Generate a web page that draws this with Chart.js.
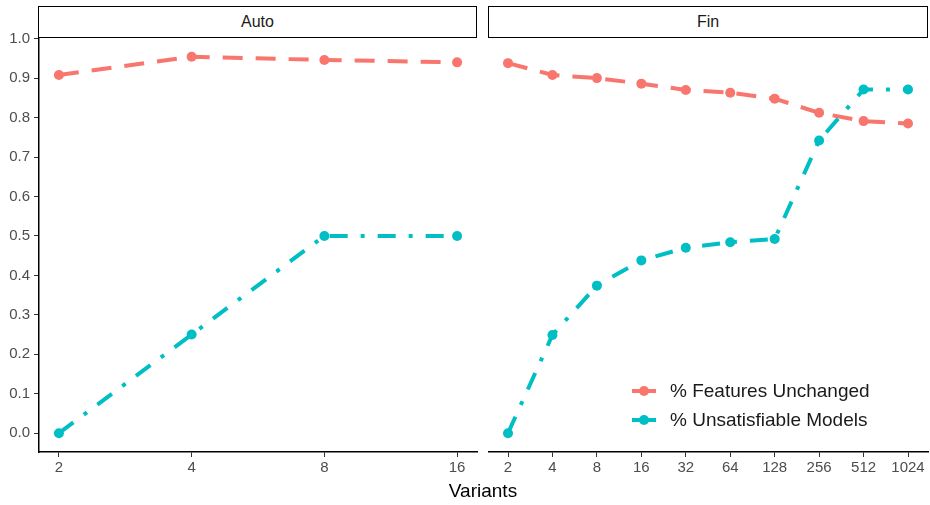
<!DOCTYPE html>
<html>
<head>
<meta charset="utf-8">
<script src="https://cdn.jsdelivr.net/npm/chart.js@4.4.0/dist/chart.umd.min.js"></script>
<style>
  body { margin: 0; background: #fff; font-family: "Liberation Sans", Arial, sans-serif; }
  #wrap { position: relative; width: 930px; height: 505px; overflow: hidden; }
  .strip { position: absolute; top: 6px; height: 32px; border: 1.5px solid #000; box-sizing: border-box; z-index: 2;
           background: #fff; text-align: center; line-height: 29px; font-size: 16px; color: #1a1a1a; }
  #chart-auto { position: absolute; left: 0; top: 20px; }
  #chart-fin { position: absolute; left: 488px; top: 20px; }
  #xtitle { position: absolute; left: 0; width: 966px; top: 480px; text-align: center; font-size: 19px; color: #000; }
</style>
</head>
<body>
<div id="wrap">
  <div class="strip" style="left:38px; width:439px;">Auto</div>
  <div class="strip" style="left:488px; width:440px;">Fin</div>
  <canvas id="chart-auto" width="478" height="462"></canvas>
  <canvas id="chart-fin" width="442" height="462"></canvas>
  <div id="xtitle">Variants</div>
</div>
<script>
// Data
var autoVariants = [2, 4, 8, 16];
var autoFeatures = [0.908, 0.954, 0.946, 0.940];
var autoUnsat    = [0.0, 0.25, 0.5, 0.5];

var finVariants = [2, 4, 8, 16, 32, 64, 128, 256, 512, 1024];
var finFeatures = [0.938, 0.908, 0.900, 0.886, 0.870, 0.863, 0.848, 0.812, 0.791, 0.785];
var finUnsat    = [0.0, 0.249, 0.374, 0.438, 0.470, 0.484, 0.492, 0.742, 0.871, 0.871];

var yTicks = [0.0, 0.1, 0.2, 0.3, 0.4, 0.5, 0.6, 0.7, 0.8, 0.9, 1.0];
var seriesLabels = ['% Features Unchanged', '% Unsatisfiable Models'];

var RED = '#F8766D', CYAN = '#00BFC4';
var FONT = '"Liberation Sans", Arial, sans-serif';

function pts(xs, ys) {
  return xs.map(function(x, i) { return { x: x, y: ys[i] }; });
}

function makeDatasets(xs, feat, unsat) {
  return [{
    label: seriesLabels[0],
    data: pts(xs, feat),
    borderColor: RED,
    backgroundColor: RED,
    borderWidth: 4,
    borderDash: [20, 13],
    pointRadius: 5,
    pointBorderWidth: 0,
    pointBackgroundColor: RED
  }, {
    label: seriesLabels[1],
    data: pts(xs, unsat),
    borderColor: CYAN,
    backgroundColor: CYAN,
    borderWidth: 4,
    borderDash: [18, 13, 4, 13],
    pointRadius: 5,
    pointBorderWidth: 0,
    pointBackgroundColor: CYAN
  }];
}

// log2 range with ggplot-like 5% expansion
function xRange(xs) {
  var lo = Math.log2(xs[0]), hi = Math.log2(xs[xs.length - 1]);
  var pad = (hi - lo) * 0.05;
  return { min: Math.pow(2, lo - pad), max: Math.pow(2, hi + pad) };
}

function xScale(xs) {
  var r = xRange(xs);
  return {
    type: 'logarithmic',
    min: r.min,
    max: r.max,
    afterBuildTicks: function(scale) {
      scale.ticks = xs.map(function(v) { return { value: v }; });
    },
    afterFit: function(scale) {
      scale.height = 30;
      scale.paddingLeft = 0;
      scale.paddingRight = 0;
    },
    ticks: {
      color: '#4d4d4d',
      font: { family: FONT, size: 15 },
      padding: 2,
      maxRotation: 0,
      autoSkip: false,
      callback: function(v) { return String(v); }
    },
    grid: { display: true, drawOnChartArea: false, tickLength: 5, color: '#333', tickWidth: 1 },
    border: { display: true, color: '#000', width: 1.5 }
  };
}

function yScale(show) {
  return {
    type: 'linear',
    min: -0.0477,
    max: 1.0017,
    display: show,
    afterBuildTicks: function(scale) {
      scale.ticks = yTicks.map(function(v) { return { value: v }; });
    },
    afterFit: function(scale) {
      if (show) scale.width = 39;
      scale.paddingTop = 0;
      scale.paddingBottom = 0;
    },
    ticks: {
      color: '#4d4d4d',
      font: { family: FONT, size: 15 },
      padding: 4,
      callback: function(v) { return Number(v).toFixed(1); }
    },
    grid: { display: true, drawOnChartArea: false, tickLength: 5, color: '#333', tickWidth: 1 },
    border: { display: true, color: '#000', width: 1.5 }
  };
}

// Legend drawn inside the Fin panel
var insideLegend = {
  id: 'insideLegend',
  afterDraw: function(chart) {
    var ctx = chart.ctx, area = chart.chartArea;
    var x0 = area.left + 144, rows = [area.top + 353, area.top + 382];
    ctx.save();
    chart.data.datasets.forEach(function(ds, i) {
      var y = rows[i];
      ctx.strokeStyle = ds.borderColor;
      ctx.lineWidth = 4;
      ctx.beginPath();
      ctx.moveTo(x0, y);
      ctx.lineTo(x0 + 24, y);
      ctx.stroke();
      ctx.fillStyle = ds.borderColor;
      ctx.beginPath();
      ctx.arc(x0 + 12, y, 5, 0, Math.PI * 2);
      ctx.fill();
      ctx.fillStyle = '#1a1a1a';
      ctx.font = '19px ' + FONT;
      ctx.textBaseline = 'middle';
      ctx.fillText(ds.label, x0 + 38, y + 1);
    });
    ctx.restore();
  }
};

function baseOptions(xs, showY, padRight) {
  return {
    responsive: false,
    maintainAspectRatio: false,
    animation: false,
    layout: { autoPadding: false, padding: { left: 0, right: padRight, top: 18, bottom: 0 } },
    plugins: { legend: { display: false }, tooltip: { enabled: false } },
    scales: { x: xScale(xs), y: yScale(showY) }
  };
}

var autoChart = new Chart(document.getElementById('chart-auto').getContext('2d'), {
  type: 'line',
  data: { datasets: makeDatasets(autoVariants, autoFeatures, autoUnsat) },
  options: baseOptions(autoVariants, true, 1)
});

var finChart = new Chart(document.getElementById('chart-fin').getContext('2d'), {
  type: 'line',
  data: { datasets: makeDatasets(finVariants, finFeatures, finUnsat) },
  options: baseOptions(finVariants, false, 2),
  plugins: [insideLegend]
});
</script>
</body>
</html>
